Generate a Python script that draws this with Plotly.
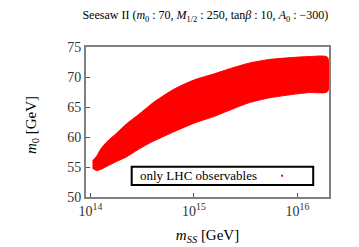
import numpy as np
import plotly.graph_objects as go

# log10(m_SS / GeV) sample positions along the band
log_mss = [14.02, 14.06, 14.10, 14.15, 14.25, 14.35, 14.44, 14.54, 14.62,
           14.81, 15.00, 15.19, 15.35, 15.53, 15.72, 15.91, 16.11, 16.29]
# upper and lower edges of the allowed m0 region [GeV]
m0_upper = [56.0, 56.8, 58.0, 59.05, 60.6, 62.2, 63.4, 64.8, 65.9,
            68.0, 69.5, 70.5, 71.4, 72.3, 72.9, 73.2, 73.4, 73.3]
m0_lower = [54.8, 54.4, 54.6, 55.05, 55.9, 56.7, 57.7, 58.7, 59.4,
            60.9, 62.3, 63.4, 64.5, 65.7, 66.5, 67.0, 67.4, 67.55]

x_ticks = [1e14, 1e15, 1e16]
x_ticktext = ["10<sup>14</sup>", "10<sup>15</sup>", "10<sup>16</sup>"]
y_ticks = [50, 55, 60, 65, 70, 75]

mss = list(10 ** np.array(log_mss))
poly_x = mss + mss[::-1]
poly_y = m0_upper + m0_lower[::-1]

FONT = "Liberation Serif"

fig = go.Figure()
fig.add_trace(go.Scatter(
    x=poly_x, y=poly_y, mode="lines", fill="toself",
    fillcolor="#ff0000", line=dict(color="#ff0000", width=1, shape="spline", smoothing=0.6),
    showlegend=False, hoverinfo="skip"))

fig.update_layout(
    width=359, height=247,
    margin=dict(l=86, r=30, t=47, b=50, autoexpand=False),
    paper_bgcolor="white", plot_bgcolor="white",
    font=dict(family=FONT, color="black", size=14),
    showlegend=False,
    title=dict(
        text="Seesaw II (<i>m</i><sub>0</sub> : 70, <i>M</i><sub>1/2</sub> : 250, "
             "tan<i>β</i> : 10, <i>A</i><sub>0</sub> : −300)",
        x=0.572, xanchor="center", y=0.94, yanchor="middle",
        font=dict(family=FONT, size=12, color="black")),
    xaxis=dict(
        type="log", range=[13.957, 16.305], automargin=False,
        tickvals=x_ticks, ticktext=x_ticktext,
        ticks="inside", ticklen=4, tickcolor="#555555", tickwidth=1,
        showline=True, linecolor="#808080", linewidth=2, mirror=True,
        showgrid=False, zeroline=False,
        tickfont=dict(family=FONT, size=14, color="#333333"),
        title=dict(text="<i>m</i><sub><i>SS</i></sub> [GeV]",
                   font=dict(family=FONT, size=15), standoff=12)),
    yaxis=dict(
        range=[50, 75], tickvals=y_ticks, automargin=False,
        ticks="inside", ticklen=4, tickcolor="#555555", tickwidth=1,
        showline=True, linecolor="#808080", linewidth=2, mirror=True,
        showgrid=False, zeroline=False,
        tickfont=dict(family=FONT, size=14, color="#333333")),
    annotations=[
        dict(xref="paper", yref="paper", x=-0.222, y=0.48,
             xanchor="center", yanchor="middle", textangle=-90,
             text="<i>m</i><sub>0</sub> [GeV]", showarrow=False,
             font=dict(family=FONT, size=15, color="black")),
        dict(xref="paper", yref="paper", x=0.214, y=0.141,
             xanchor="left", yanchor="middle",
             text="only LHC observables", showarrow=False,
             font=dict(family=FONT, size=13, color="black"))],
    shapes=[
        dict(type="rect", xref="paper", yref="paper",
             x0=0.188, x1=0.935, y0=0.08, y1=0.202,
             fillcolor="white", line=dict(color="black", width=2), layer="above"),
        dict(type="rect", xref="paper", yref="paper",
             xsizemode="pixel", ysizemode="pixel",
             xanchor=0.807, yanchor=0.142,
             x0=-1, x1=1, y0=-1, y1=1,
             fillcolor="#ff0000", line=dict(width=0), layer="above")],
)

fig.write_html("out.html", config={"displayModeBar": False},
               post_script="document.body.style.margin='0';document.body.style.overflow='hidden';")
